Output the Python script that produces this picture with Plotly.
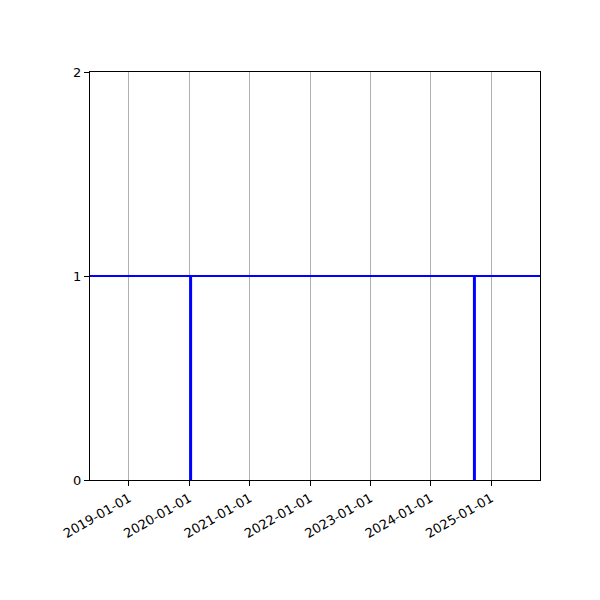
import plotly.graph_objects as go

# Data
span_dates = ["2018-05-10", "2025-10-24"]
level = [1, 1]
event_dates = ["2020-01-09", "2024-09-22"]
event_low = 0
event_high = 1
tick_dates = ["2019-01-01", "2020-01-01", "2021-01-01", "2022-01-01",
              "2023-01-01", "2024-01-01", "2025-01-01"]
y_ticks = [0, 1, 2]

fig = go.Figure()
fig.add_trace(go.Scatter(x=span_dates, y=level, mode="lines",
                         line=dict(color="#0000ff", width=2), showlegend=False))
for d in event_dates:
    fig.add_trace(go.Scatter(x=[d, d], y=[event_low, event_high], mode="lines",
                             line=dict(color="#0000ff", width=3), showlegend=False))

axis_common = dict(showline=True, linecolor="black", linewidth=1, mirror=True,
                   ticks="outside", ticklen=5, tickcolor="black", tickwidth=1,
                   tickfont=dict(family="DejaVu Sans", size=13, color="black"),
                   zeroline=False)
fig.update_xaxes(type="date", range=span_dates, tickmode="array",
                 tickvals=tick_dates, ticktext=tick_dates, tickangle=-30,
                 showgrid=True, gridcolor="#b0b0b0", gridwidth=1, **axis_common)
fig.update_yaxes(range=[0, 2], tickmode="array", tickvals=y_ticks,
                 ticktext=[str(v) for v in y_ticks], showgrid=False, **axis_common)

fig.update_layout(width=600, height=600, plot_bgcolor="white", paper_bgcolor="white",
                  margin=dict(l=82, r=68, t=64, b=128), showlegend=False)
fig.write_html("out.html")
